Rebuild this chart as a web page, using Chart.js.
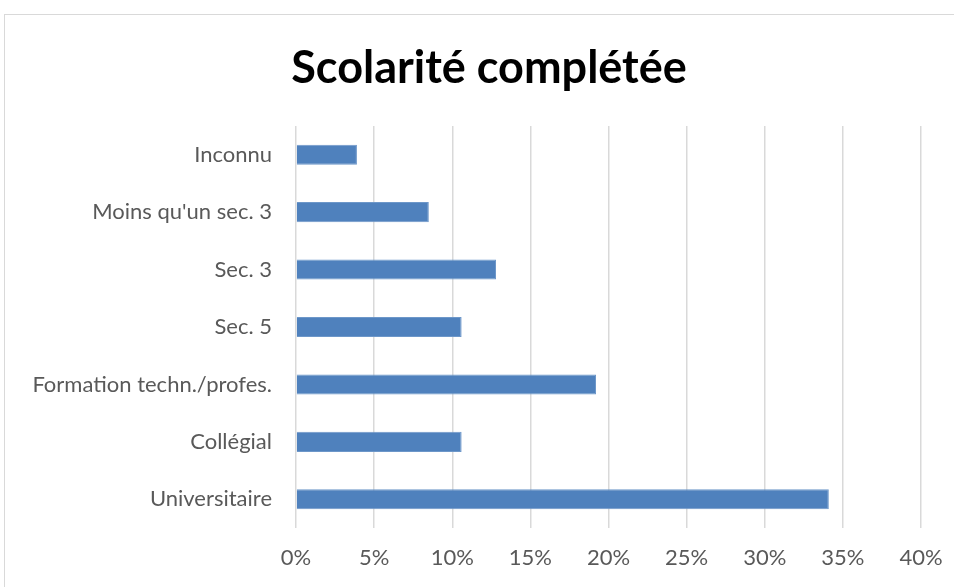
<!DOCTYPE html>
<html>
<head>
<meta charset="utf-8">
<script src="https://cdn.jsdelivr.net/npm/chart.js@4"></script>
<style>
  html, body { margin: 0; padding: 0; background: #fff; overflow: hidden; }
  #frame {
    position: absolute; left: 4px; top: 14px;
    width: 980px; height: 620px;
    border: 1px solid #d9d9d9;
  }
  #wrap { position: absolute; left: 0; top: 0; width: 954px; height: 587px; }
  #title {
    position: absolute; left: 289px; width: 400px; top: 39px;
    text-align: center; white-space: nowrap;
    font-family: Lato, 'Open Sans', sans-serif;
    font-weight: bold; font-size: 45px; line-height: 54px;
    color: #000;
  }
</style>
</head>
<body>
<div id="frame"></div>
<div id="wrap"><canvas id="chart" width="954" height="587"></canvas></div>
<div id="title">Scolarité complétée</div>
<script>
// ==========================
// DATA
// ==========================
const categories = [
  "Inconnu",
  "Moins qu'un sec. 3",
  "Sec. 3",
  "Sec. 5",
  "Formation techn./profes.",
  "Collégial",
  "Universitaire",
];
const values = [3.9, 8.5, 12.8, 10.6, 19.2, 10.6, 34.1]; // %
const tickMax = 40;
const tickStep = 5;

const labelFont = "Lato, 'Open Sans', sans-serif";

// ==========================
// CHART
// ==========================
new Chart(document.getElementById("chart"), {
  type: "bar",
  data: {
    labels: categories,
    datasets: [
      {
        data: values,
        backgroundColor: "#4f81bd",
        borderColor: "#6d97c9",
        borderWidth: 1,
        categoryPercentage: 0.7,
        barPercentage: 0.5,
      },
    ],
  },
  options: {
    indexAxis: "y",
    responsive: false,
    animation: false,
    layout: { padding: { left: 0, right: 33, top: 126, bottom: 0 } },
    plugins: {
      legend: { display: false },
      tooltip: { enabled: false },
    },
    scales: {
      x: {
        min: 0,
        max: tickMax,
        ticks: {
          stepSize: tickStep,
          color: "#595959",
          font: { family: labelFont, size: 22 },
          padding: 17,
          callback: (v) => v + "%",
        },
        grid: { color: "#d9d9d9", lineWidth: 1.5, drawTicks: false },
        border: { display: false },
        afterFit: (scale) => {
          scale.height = 59;
          scale.paddingLeft = 0;
          scale.paddingRight = 0;
        },
      },
      y: {
        ticks: {
          color: "#595959",
          font: { family: labelFont, size: 22 },
          padding: 16,
        },
        grid: { display: false },
        border: { display: false },
        afterFit: (scale) => { scale.width = 296; },
      },
    },
  },
});
</script>
</body>
</html>
